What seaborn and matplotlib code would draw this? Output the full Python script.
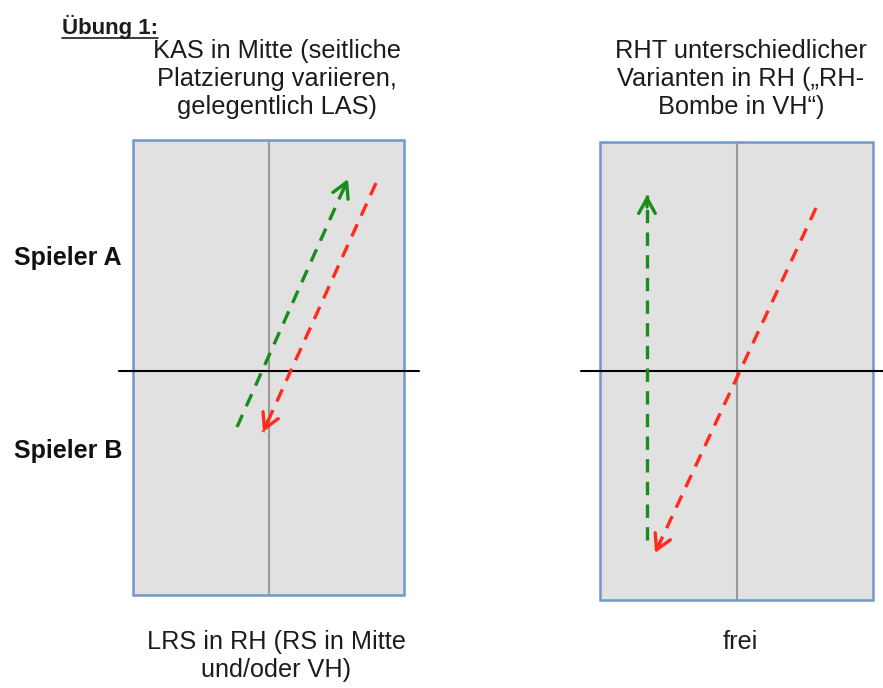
import matplotlib
matplotlib.use("Agg")
import matplotlib.pyplot as plt
from matplotlib.patches import Rectangle
import seaborn as sns
import numpy as np

# ---------------- data (pixel-like diagram units) ----------------
table_left = [133, 140, 404, 595]    # x0, y0, x1, y1
table_right = [600, 142, 873, 600]
net_left_x = [119, 419]
net_right_x = [581, 883]
net_y = 371

green_left = [(237, 427), (348, 179)]   # start, tip
red_left = [(376, 183), (263, 432)]
green_right = [(647, 540), (647, 195)]
red_right = [(816, 208), (655, 553)]

title_left = ["KAS in Mitte (seitliche", "Platzierung variieren,", "gelegentlich LAS)"]
title_right = ["RHT unterschiedlicher", "Varianten in RH (\u201eRH-", "Bombe in VH\u201c)"]
bottom_left = ["LRS in RH (RS in Mitte", "und/oder VH)"]
bottom_right = ["frei"]
heading = "\u00dcbung 1:"
players = ["Spieler A", "Spieler B"]

GREEN = "#1b8c1b"
RED = "#ff2b1c"
FILL = "#e1e1e1"
BORDER = "#7099c9"
MIDLINE = "#999999"
TXT = "#1c1c1c"

sns.set_theme(style="white")
plt.rcParams["font.family"] = ["Liberation Sans", "DejaVu Sans"]

fig = plt.figure(figsize=(8.83, 6.88), dpi=100)
ax = fig.add_axes([0, 0, 1, 1])
ax.set_xlim(0, 883)
ax.set_ylim(688, 0)
ax.axis("off")

def seg_line(xs, ys, **kw):
    sns.lineplot(x=xs, y=ys, ax=ax, sort=False, estimator=None, **kw)

def draw_table(t, netx):
    x0, y0, x1, y1 = t
    ax.add_patch(Rectangle((x0, y0), x1 - x0, y1 - y0, facecolor=FILL,
                           edgecolor=BORDER, lw=1.8, zorder=1))
    cx = (x0 + x1) / 2
    seg_line([cx, cx], [y0, y1], color=MIDLINE, lw=1.5, zorder=2)
    seg_line(netx, [net_y, net_y], color="black", lw=1.5, zorder=3)

draw_table(table_left, net_left_x)
draw_table(table_right, net_right_x)

def draw_arrow(seg, color):
    (x0, y0), (x1, y1) = seg
    seg_line([x0, x1], [y0, y1], color=color, lw=2.4, zorder=4,
             linestyle=(0, (4.0, 2.8)))
    d = np.array([x1 - x0, y1 - y0], float)
    d /= np.hypot(*d)
    back = (x1 - 12 * d[0], y1 - 12 * d[1])
    ax.annotate("", xy=(x1, y1), xytext=back,
                arrowprops=dict(arrowstyle="->,head_length=0.9,head_width=0.5",
                                color=color, lw=2.4, shrinkA=0, shrinkB=0),
                zorder=5)

draw_arrow(green_left, GREEN)
draw_arrow(red_left, RED)
draw_arrow(green_right, GREEN)
draw_arrow(red_right, RED)

# titles
for i, s in enumerate(title_left):
    ax.text(277, 51 + 28 * i, s, ha="center", va="center", fontsize=18.3, color=TXT)
for i, s in enumerate(title_right):
    ax.text(741, 51 + 28 * i, s, ha="center", va="center", fontsize=18.3, color=TXT)

for i, s in enumerate(bottom_left):
    ax.text(276, 642 + 28 * i, s, ha="center", va="center", fontsize=18.2, color=TXT)
for i, s in enumerate(bottom_right):
    ax.text(740, 642 + 28 * i, s, ha="center", va="center", fontsize=18.2, color=TXT)

ax.text(14, 258, players[0], ha="left", va="center", fontsize=18, fontweight="bold", color="#111111")
ax.text(14, 451, players[1], ha="left", va="center", fontsize=18, fontweight="bold", color="#111111")

h = ax.text(62, 27, heading, ha="left", va="center", fontsize=16, fontweight="bold", color=TXT)
fig.canvas.draw()
bb = h.get_window_extent(renderer=fig.canvas.get_renderer())
inv = ax.transData.inverted()
(ux0, _), (ux1, _) = inv.transform([(bb.x0, bb.y0), (bb.x1, bb.y0)])
ax.plot([ux0, ux1], [38, 38], color=TXT, lw=1.2)

fig.savefig("out.png", dpi=100)
